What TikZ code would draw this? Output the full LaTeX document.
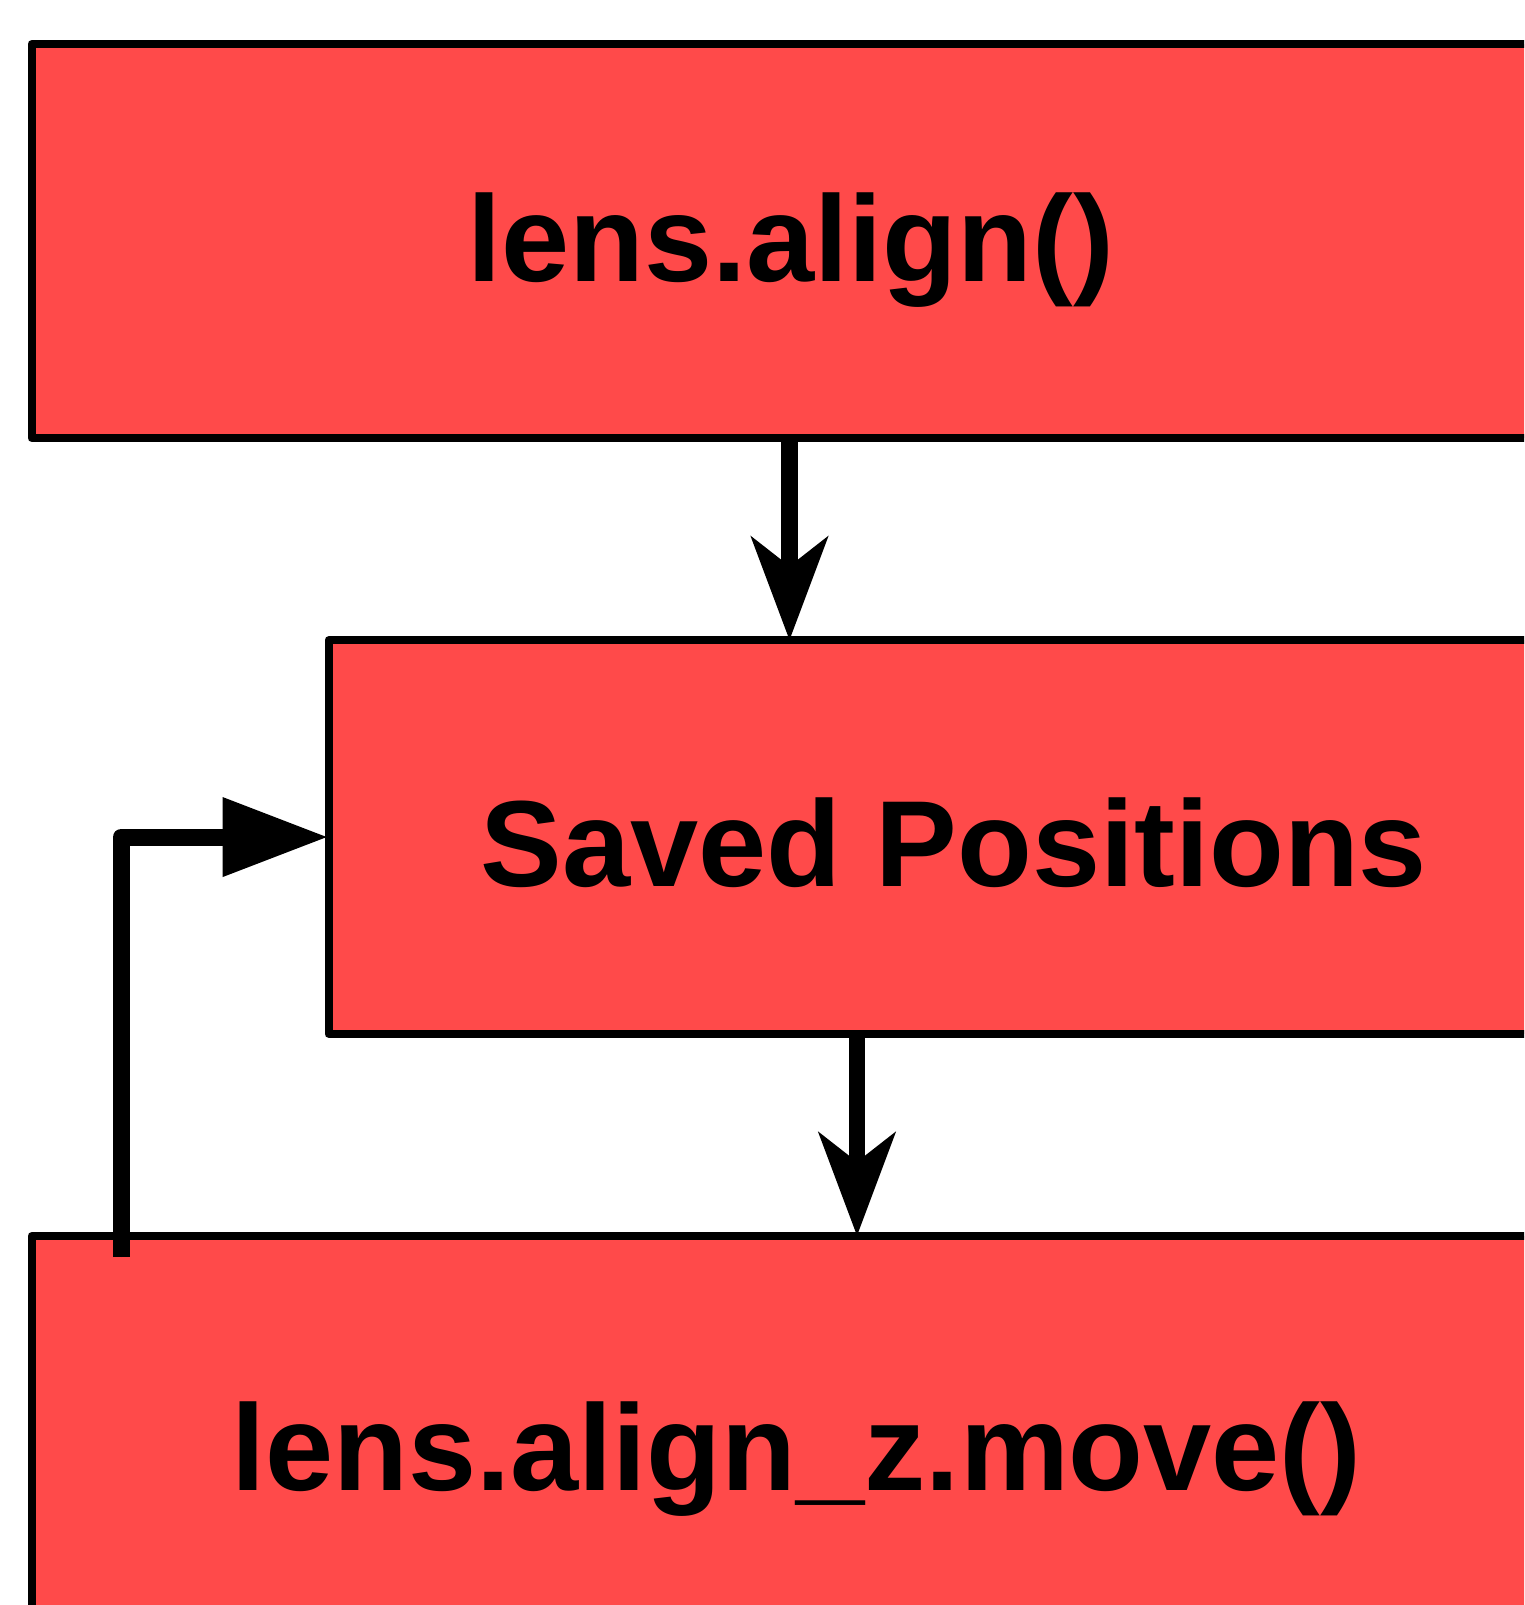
\documentclass[tikz,border=0pt]{standalone}
\usepackage{fontspec}
\setmainfont{Liberation Sans}
\usetikzlibrary{arrows.meta}
\definecolor{boxred}{RGB}{255,74,74}
\tikzset{
  stepbox/.style={draw=black, fill=boxred, line width=8pt, line join=round,
    rectangle, anchor=north west, outer sep=0pt, inner sep=0pt,
    font=\fontsize{122.5pt}{130pt}\selectfont\bfseries, text depth=0pt},
  flow/.style={line width=16.5pt, line cap=butt,
    -{Stealth[length=103pt, width=76pt, inset=29pt]}},
  loopback/.style={line width=17pt, line join=round, line cap=butt,
    -{Triangle[length=106pt, width=75pt]}, preaction={draw, -}}
}
\begin{document}
\begin{tikzpicture}[x=1pt, y=-1pt]
  \useasboundingbox (0,0) rectangle (1524,1605);
  \clip (0,0) rectangle (1524,1605);
  % the three stages
  \node[stepbox, minimum width=1518pt, minimum height=394pt, text height=80pt]
    (b1) at (31.5,44) {lens.align()};
  \node[stepbox, minimum width=1251pt, minimum height=393.5pt, text height=98pt]
    (b2) at (328.5,640.3) {Saved Positions};
  \node[stepbox, minimum width=1530pt, minimum height=394pt, text height=114pt]
    (b3) at (31.5,1236) {lens.align\_z.move()};
  % connectors
  \coordinate (a1) at (789.5,0);
  \coordinate (a2) at (857,0);
  \coordinate (fb) at (121,1257);
  \draw[flow] (b1.south -| a1) -- (b2.north -| a1);
  \draw[flow] (b2.south -| a2) -- (b3.north -| a2);
  \draw[loopback] (fb) |- (b2.west);
\end{tikzpicture}
\end{document}
